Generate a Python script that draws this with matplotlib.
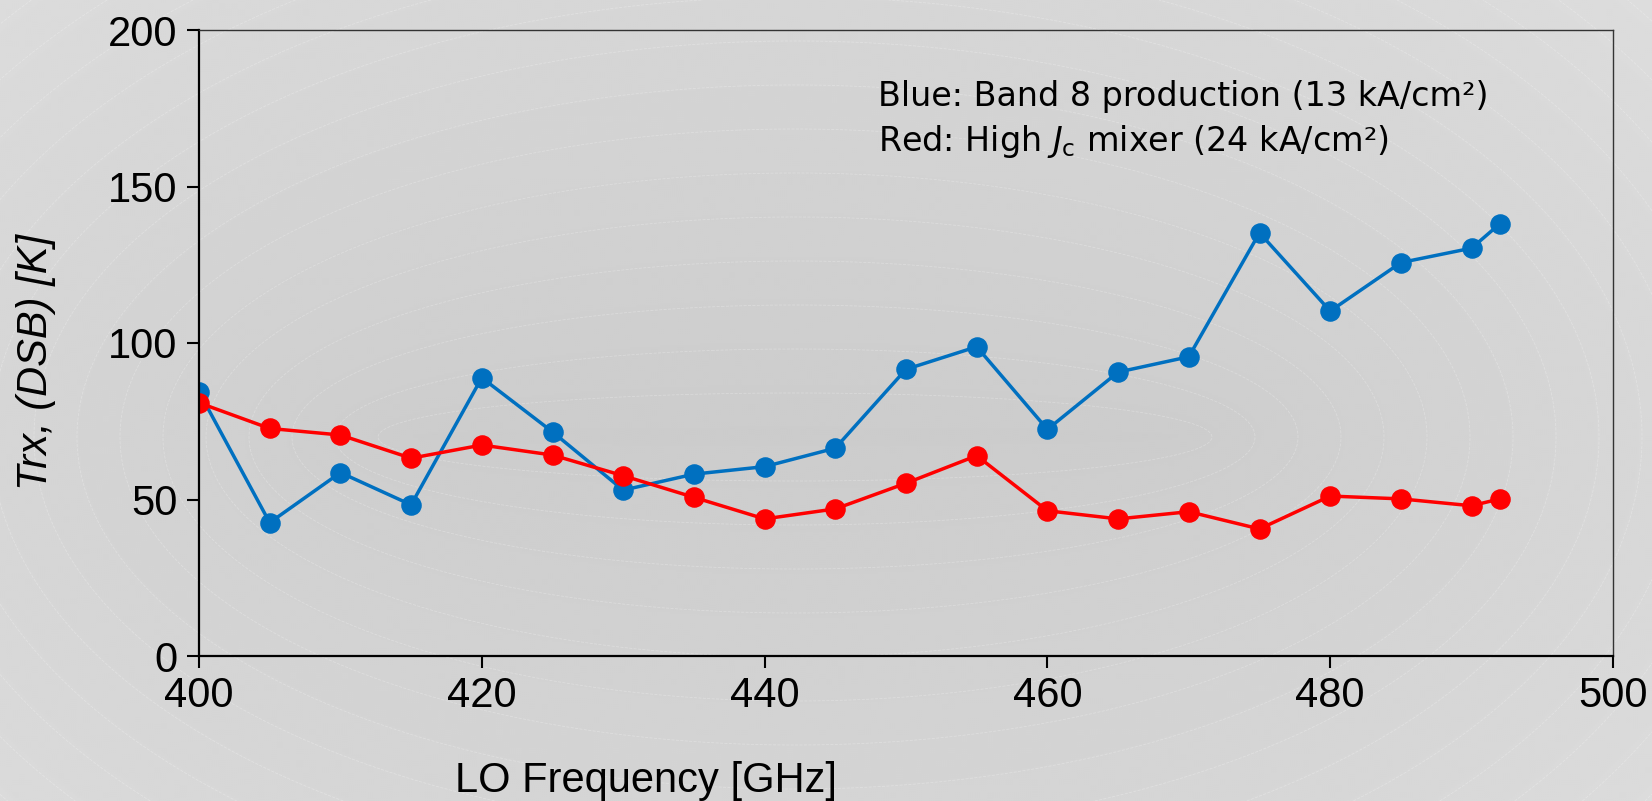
import numpy as np
import matplotlib.pyplot as plt

plt.rcParams['font.family'] = ['Liberation Sans', 'DejaVu Sans']
plt.rcParams['mathtext.fontset'] = 'dejavusans'

# LO frequency [GHz] and receiver noise temperature [K]
freq = [400, 405, 410, 415, 420, 425, 430, 435, 440, 445,
        450, 455, 460, 465, 470, 475, 480, 485, 490, 492]
trx_band8 = [84.4, 42.6, 58.6, 48.3, 88.9, 71.6, 53.0, 58.1, 60.5, 66.4,
             91.6, 98.8, 72.4, 90.7, 95.6, 135.2, 110.2, 125.7, 130.3, 138.1]
trx_high_jc = [80.9, 72.7, 70.6, 63.2, 67.4, 64.2, 57.6, 50.7, 43.8, 47.0,
               55.2, 64.0, 46.4, 43.8, 46.1, 40.6, 51.1, 50.2, 48.0, 50.2]

xticks = [400, 420, 440, 460, 480, 500]
yticks = [0, 50, 100, 150, 200]

W, H = 1652, 801
fig = plt.figure(figsize=(W / 100, H / 100), dpi=100)

# grey background, darker around a horizontal core, with faint banding lines
bg = fig.add_axes([0, 0, 1, 1], zorder=-10)
gx, gy = np.meshgrid(np.linspace(0, W, 827), np.linspace(0, H, 401))
dx, dy = gx - 795, gy - 437
lo, hi = np.full(dx.shape, 1e-3), np.full(dx.shape, 60.0)
for _ in range(40):
    t = (lo + hi) / 2
    f = (dx / (374 + 43 * t)) ** 2 + (dy / (44 * t)) ** 2
    lo = np.where(f > 1, t, lo)
    hi = np.where(f > 1, hi, t)
t = (lo + hi) / 2
shade = np.clip(0.80 + 0.004 * t, 0, 0.875)
bg.imshow(shade, cmap='gray', vmin=0, vmax=1, extent=[0, W, H, 0],
          aspect='auto', interpolation='bilinear')
bg.contour(gx, gy, t, levels=np.arange(1, 25), colors='white',
           linewidths=0.6, linestyles='--', alpha=0.25)
bg.set_xlim(0, W)
bg.set_ylim(H, 0)
bg.axis('off')

ax = fig.add_axes([199 / W, 1 - 656 / H, (1613 - 199) / W, (656 - 30) / H])
ax.set_facecolor('none')

ax.plot(freq, trx_band8, '-o', color='#0070C0', lw=2.5, ms=13.8)
ax.plot(freq, trx_high_jc, '-o', color='#FF0000', lw=2.5, ms=13.8)

ax.set_xlim(400, 500)
ax.set_ylim(0, 200)
ax.set_xticks(xticks)
ax.set_yticks(yticks)
ax.tick_params(direction='out', length=8.5, width=1.5, labelsize=30,
               colors='black')
ax.tick_params(axis='y', pad=7)
ax.tick_params(axis='x', pad=6)

for side in ['left', 'bottom']:
    ax.spines[side].set_linewidth(1.6)
for side in ['top', 'right']:
    ax.spines[side].set_linewidth(1.0)
    ax.spines[side].set_color('#333333')

fig.text(36 / W, 1 - 362 / H, 'Trx, (DSB) [K]', rotation=90, style='italic',
         ha='center', va='center', size=30)
fig.text(646 / W, 1 - 781 / H, 'LO Frequency [GHz]', ha='center',
         va='center', size=30)

note = dict(family='DejaVu Sans', size=24, va='baseline')
fig.text(878 / W, 1 - 106 / H, 'Blue: Band 8 production (13 kA/cm²)', **note)
fig.text(878 / W, 1 - 151 / H,
         'Red: High $J_\\mathrm{c}$ mixer (24 kA/cm²)', **note)

fig.savefig('out.png', dpi=100)
